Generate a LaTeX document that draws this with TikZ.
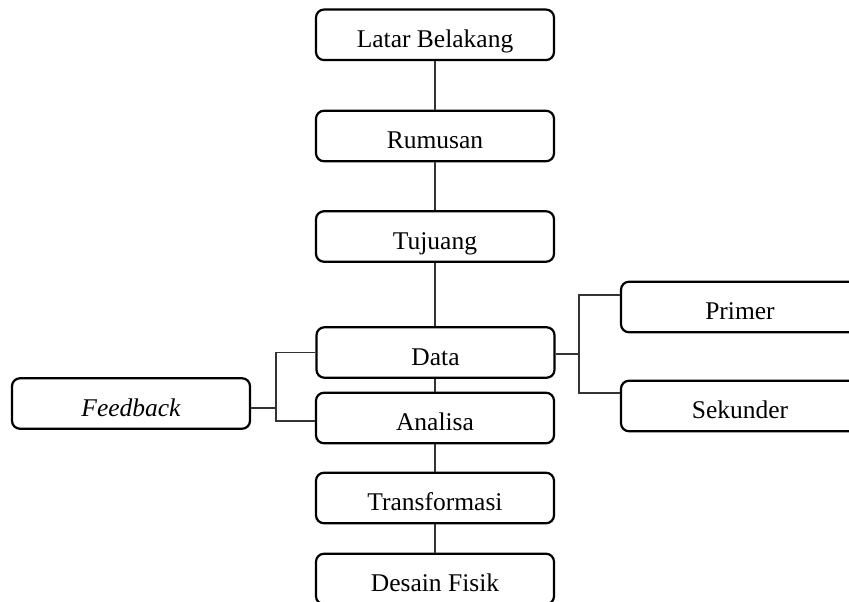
\documentclass[tikz,border=0pt]{standalone}
\usepackage{fontspec}
\setmainfont{Liberation Serif}
\usetikzlibrary{calc}
\tikzset{
  box/.style={draw=black, line width=2.2pt, rounded corners=8pt, inner sep=0pt,
    minimum width=238pt, text height=38pt, text depth=12.5pt,
    font=\fontsize{25.5}{30}\selectfont},
  conn/.style={draw=black!80, line width=1.1pt}
}
\begin{document}
\begin{tikzpicture}[x=1pt,y=-1pt]
\clip (0,0) rectangle (849,602);
\node[box] (lb) at (435,34.8) {Latar Belakang};
\node[box] (rm) at (435,136) {Rumusan};
\node[box] (tj) at (435,236.5) {Tujuang};
\node[box] (dt) at (435.5,352.5) {Data};
\node[box] (an) at (435,418) {Analisa};
\node[box] (tf) at (435,498) {Transformasi};
\node[box] (df) at (435,579) {Desain Fisik};
\node[box] (pr) at (740,307) {Primer};
\node[box] (sk) at (740,406) {Sekunder};
\node[box] (fb) at (131,403.5) {\itshape Feedback};
\coordinate (rj) at (579,354);
\coordinate (lj) at (276,408);
\draw[conn] (lb.south) -- (rm.north);
\draw[conn] (rm.south) -- (tj.north);
\draw[conn] (tj.south) -- (dt.north -| tj.south);
\draw[conn] (dt.south -| an.north) -- (an.north);
\draw[conn] (an.south) -- (tf.north);
\draw[conn] (tf.south) -- (df.north);
\draw[conn] (dt.east |- rj) -- (rj);
\draw[conn] ($(pr.west)+(0,-12)$) -| (rj) |- ($(sk.west)+(0,-13)$);
\draw[conn] (dt.west) -| (lj) |- ($(an.west)+(0,3)$);
\draw[conn] (fb.east |- lj) -- (lj);
\end{tikzpicture}
\end{document}
